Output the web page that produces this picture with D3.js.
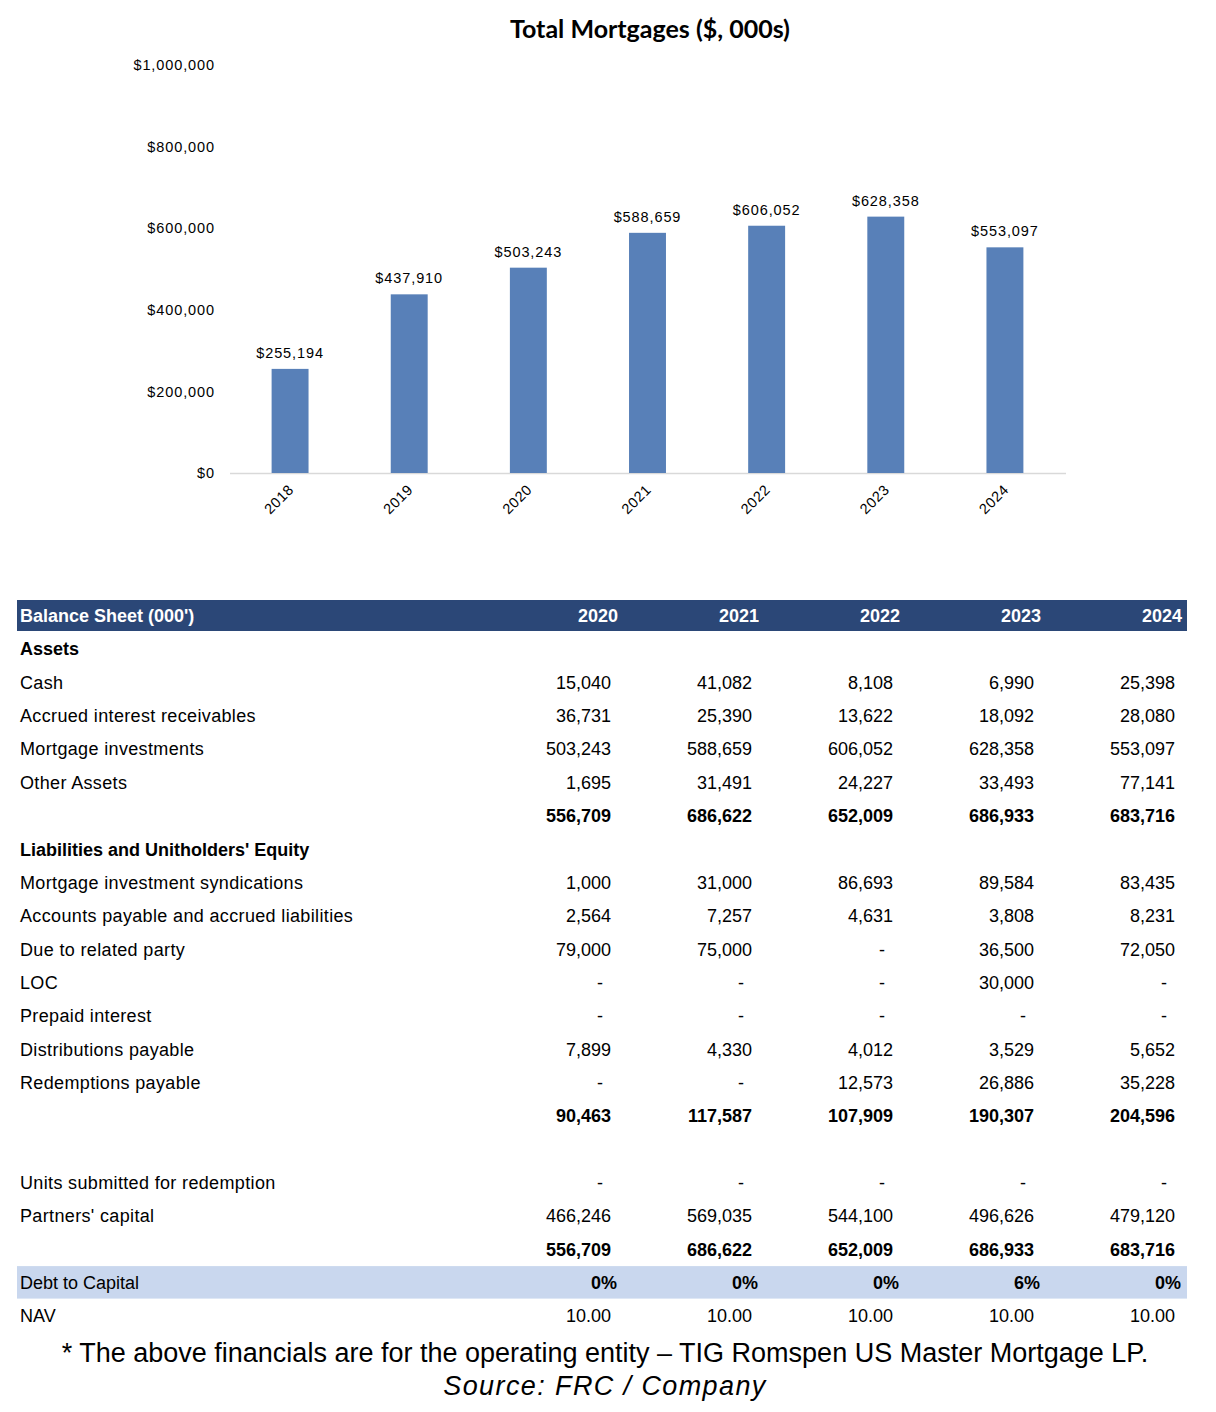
<!DOCTYPE html>
<html><head><meta charset="utf-8">
<script src="https://cdn.jsdelivr.net/npm/d3@7"></script>
<style>
body{margin:0;background:#fff;}
svg text{font-family:"Liberation Sans",Arial,sans-serif;}
</style></head>
<body><svg id="c" width="1216" height="1412"></svg>
<script>
// ---- chart data ----
const chartYears = ["2018","2019","2020","2021","2022","2023","2024"];
const totalMortgages = [255194, 437910, 503243, 588659, 606052, 628358, 553097];
const yTicks = [0, 200000, 400000, 600000, 800000, 1000000];

// ---- table data ----
const tableYears = ["2020","2021","2022","2023","2024"];
const cash = ["15,040","41,082","8,108","6,990","25,398"];
const accruedInterest = ["36,731","25,390","13,622","18,092","28,080"];
const mortgageInvestments = ["503,243","588,659","606,052","628,358","553,097"];
const otherAssets = ["1,695","31,491","24,227","33,493","77,141"];
const totalAssets = ["556,709","686,622","652,009","686,933","683,716"];
const syndications = ["1,000","31,000","86,693","89,584","83,435"];
const accountsPayable = ["2,564","7,257","4,631","3,808","8,231"];
const dueRelated = ["79,000","75,000","-","36,500","72,050"];
const loc = ["-","-","-","30,000","-"];
const prepaidInterest = ["-","-","-","-","-"];
const distributionsPayable = ["7,899","4,330","4,012","3,529","5,652"];
const redemptionsPayable = ["-","-","12,573","26,886","35,228"];
const totalLiabilities = ["90,463","117,587","107,909","190,307","204,596"];
const unitsRedemption = ["-","-","-","-","-"];
const partnersCapital = ["466,246","569,035","544,100","496,626","479,120"];
const totalLiabEquity = ["556,709","686,622","652,009","686,933","683,716"];
const debtToCapital = ["0%","0%","0%","6%","0%"];
const nav = ["10.00","10.00","10.00","10.00","10.00"];

const rows = [
  {label:"Assets", type:"section"},
  {label:"Cash", values:cash},
  {label:"Accrued interest receivables", values:accruedInterest},
  {label:"Mortgage investments", values:mortgageInvestments},
  {label:"Other Assets", values:otherAssets},
  {label:"", values:totalAssets, type:"total"},
  {label:"Liabilities and Unitholders' Equity", type:"section"},
  {label:"Mortgage investment syndications", values:syndications},
  {label:"Accounts payable and accrued liabilities", values:accountsPayable},
  {label:"Due to related party", values:dueRelated},
  {label:"LOC", values:loc},
  {label:"Prepaid interest", values:prepaidInterest},
  {label:"Distributions payable", values:distributionsPayable},
  {label:"Redemptions payable", values:redemptionsPayable},
  {label:"", values:totalLiabilities, type:"total"},
  {label:"", type:"blank"},
  {label:"Units submitted for redemption", values:unitsRedemption},
  {label:"Partners' capital", values:partnersCapital},
  {label:"", values:totalLiabEquity, type:"total"},
  {label:"Debt to Capital", values:debtToCapital, type:"highlight"},
  {label:"NAV", values:nav}
];

const svg = d3.select("#c");

// ---- bar chart ----
const x = d3.scaleBand().domain(chartYears).range([230.5, 1064.5]).paddingInner(0.69).paddingOuter(0.345);
const y = d3.scaleLinear().domain([0, 1000000]).range([473, 65]);

svg.append("text").attr("x", 650).attr("y", 38).attr("text-anchor","middle")
  .style("font-family","Lato, 'Open Sans', sans-serif").style("font-weight","bold").style("font-size","25px")
  .attr("fill","#000").text("Total Mortgages ($, 000s)");

const fmt = d3.format(",");
const yAxis = d3.axisLeft(y).tickValues(yTicks).tickSize(0).tickPadding(0).tickFormat(d => "$" + fmt(d));
const gy = svg.append("g").attr("transform","translate(215,0)").call(yAxis);
gy.select(".domain").remove();
gy.selectAll("text").attr("fill","#000").style("font-size","14.5px").style("letter-spacing","0.9px")
  .style("font-family","'Liberation Sans', Arial, sans-serif");

svg.append("line").attr("x1",230).attr("x2",1066).attr("y1",y(0)+0.5).attr("y2",y(0)+0.5)
  .attr("stroke","#d9d9d9").attr("stroke-width",1.3);

svg.append("g").selectAll("rect").data(chartYears).join("rect")
  .attr("x", d => x(d)).attr("width", x.bandwidth())
  .attr("y", (d,i) => y(totalMortgages[i])).attr("height", (d,i) => y(0) - y(totalMortgages[i]))
  .attr("fill","#5880B8");

svg.append("g").selectAll("text").data(chartYears).join("text")
  .attr("x", d => x(d) + x.bandwidth()/2).attr("y", (d,i) => y(totalMortgages[i]) - 11)
  .attr("text-anchor","middle").style("font-size","14.5px").style("letter-spacing","0.9px").attr("fill","#000")
  .text((d,i) => "$" + fmt(totalMortgages[i]));

svg.append("g").selectAll("text").data(chartYears).join("text")
  .attr("transform", d => `translate(${x(d) + x.bandwidth()/2 + 1},${487}) rotate(-45)`)
  .attr("text-anchor","end").attr("dy","0.35em")
  .style("font-size","14.5px").style("letter-spacing","0.6px").attr("fill","#000").text(d => d);

// ---- table ----
const tLeft = 17, tRight = 1187;
const rowH = 33.35, row0 = 615.6;
const colRight = [618, 759, 900, 1041, 1182];

svg.append("rect").attr("x",tLeft).attr("y",600).attr("width",tRight-tLeft).attr("height",31).attr("fill","#2B4777");
svg.append("text").attr("x",20).attr("y",row0).attr("dy","0.36em").attr("fill","#fff")
  .style("font-weight","bold").style("font-size","18px").text("Balance Sheet (000')");
svg.append("g").selectAll("text").data(tableYears).join("text")
  .attr("x",(d,i)=>colRight[i]).attr("y",row0).attr("dy","0.36em").attr("text-anchor","end")
  .attr("fill","#fff").style("font-weight","bold").style("font-size","18px").text(d=>d);

rows.forEach((r, i) => {
  const cy = row0 + rowH*(i+1);
  const g = svg.append("g");
  if (r.type === "highlight") {
    g.append("rect").attr("x",tLeft).attr("y",cy-16.5).attr("width",tRight-tLeft).attr("height",32.5).attr("fill","#C9D7EE");
  }
  if (r.label) {
    const isNarrow = r.type === "highlight" || r.label === "NAV";
    g.append("text").attr("x",20).attr("y",cy).attr("dy","0.36em").attr("fill","#000")
      .style("font-size","18px")
      .style("letter-spacing", (r.type === "section" || isNarrow) ? "0px" : "0.35px")
      .style("font-weight", r.type === "section" ? "bold" : "normal").text(r.label);
  }
  if (r.values) {
    g.selectAll("text.v").data(r.values).join("text").attr("class","v")
      .attr("x",(d,j)=> colRight[j] - (r.type === "highlight" ? 1 : 7) - (d === "-" ? 8 : 0))
      .attr("y",cy).attr("dy","0.36em").attr("text-anchor","end").attr("fill","#000")
      .style("font-size","18px")
      .style("font-weight", (r.type === "total" || r.type === "highlight") ? "bold" : "normal")
      .text(d=>d);
  }
});

// ---- footnote ----
svg.append("text").attr("x",605).attr("y",1362).attr("text-anchor","middle").attr("fill","#000")
  .style("font-size","27px").text("* The above financials are for the operating entity – TIG Romspen US Master Mortgage LP.");
svg.append("text").attr("x",605).attr("y",1395).attr("text-anchor","middle").attr("fill","#000")
  .style("font-size","27px").style("letter-spacing","1.4px").style("font-style","italic").text("Source: FRC / Company");
</script></body></html>
